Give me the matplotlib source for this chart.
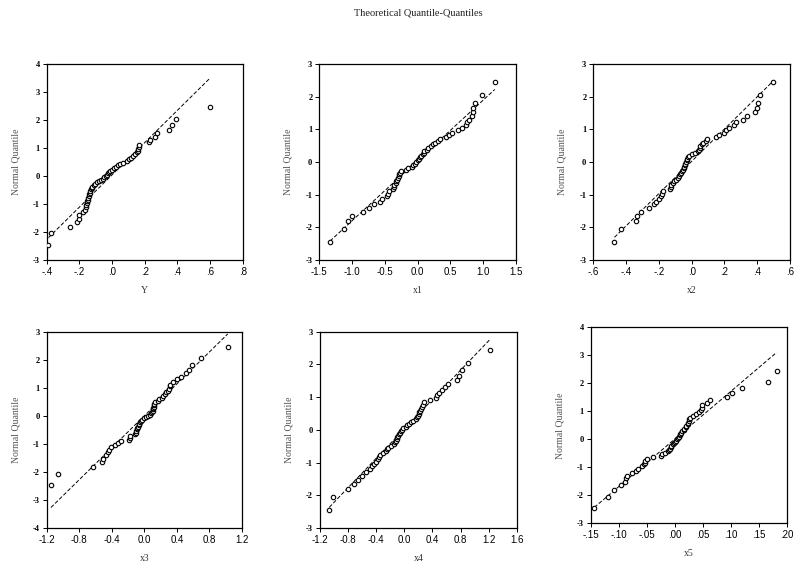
import numpy as np
import matplotlib
matplotlib.use('Agg')
import matplotlib.pyplot as plt

# theoretical normal quantiles (shared by all panels)
yq = [-2.45, -2.05, -1.82, -1.65, -1.52, -1.40, -1.30, -1.21, -1.12, -1.05,
      -0.97, -0.90, -0.84, -0.77, -0.71, -0.65, -0.59, -0.54, -0.48, -0.43,
      -0.38, -0.33, -0.28, -0.23, -0.18, -0.14, -0.09, -0.05, 0.00, 0.05,
      0.09, 0.14, 0.18, 0.23, 0.28, 0.33, 0.38, 0.43, 0.48, 0.54,
      0.59, 0.65, 0.71, 0.77, 0.84, 0.90, 0.97, 1.05, 1.12, 1.21,
      1.30, 1.40, 1.52, 1.65, 1.82, 2.05, 2.45]

# sorted sample values per variable
q_Y = [-0.389, -0.371, -0.258, -0.217, -0.205, -0.203, -0.176, -0.165, -0.160, -0.158,
       -0.155, -0.152, -0.150, -0.147, -0.143, -0.140, -0.137, -0.132, -0.127, -0.122,
       -0.120, -0.112, -0.105, -0.092, -0.080, -0.068, -0.058, -0.050, -0.040, -0.032,
       -0.027, -0.020, -0.012, 0.000, 0.010, 0.022, 0.035, 0.048, 0.070, 0.092,
       0.105, 0.117, 0.130, 0.140, 0.150, 0.160, 0.162, 0.164, 0.166, 0.225,
       0.230, 0.260, 0.275, 0.348, 0.369, 0.389, 0.598]
q_x1 = [-1.337, -1.118, -1.057, -0.996, -0.829, -0.747, -0.661, -0.574, -0.549, -0.473,
        -0.452, -0.440, -0.381, -0.362, -0.352, -0.335, -0.328, -0.310, -0.303, -0.285,
        -0.278, -0.262, -0.250, -0.170, -0.145, -0.090, -0.070, -0.035, -0.020, 0.015,
        0.030, 0.045, 0.060, 0.080, 0.092, 0.105, 0.140, 0.160, 0.200, 0.240,
        0.260, 0.320, 0.350, 0.430, 0.480, 0.520, 0.620, 0.680, 0.740, 0.762,
        0.788, 0.840, 0.842, 0.854, 0.874, 0.990, 1.180]
q_x2 = [-0.471, -0.431, -0.339, -0.336, -0.312, -0.261, -0.231, -0.220, -0.200, -0.190,
        -0.180, -0.176, -0.133, -0.128, -0.124, -0.112, -0.105, -0.094, -0.082, -0.076,
        -0.069, -0.062, -0.057, -0.051, -0.047, -0.044, -0.041, -0.038, -0.035, -0.030,
        -0.027, -0.020, -0.014, 0.000, 0.022, 0.036, 0.042, 0.048, 0.052, 0.062,
        0.068, 0.086, 0.094, 0.147, 0.167, 0.198, 0.208, 0.227, 0.259, 0.273,
        0.314, 0.339, 0.386, 0.396, 0.402, 0.416, 0.494]
q_x3 = [-1.148, -1.057, -0.635, -0.525, -0.512, -0.471, -0.443, -0.430, -0.415, -0.361,
        -0.320, -0.287, -0.184, -0.180, -0.176, -0.115, -0.104, -0.100, -0.092, -0.086,
        -0.080, -0.070, -0.062, -0.055, -0.045, -0.025, -0.010, 0.015, 0.045, 0.070,
        0.080, 0.095, 0.102, 0.108, 0.112, 0.115, 0.118, 0.122, 0.130, 0.165,
        0.180, 0.215, 0.234, 0.255, 0.270, 0.290, 0.300, 0.312, 0.320, 0.348,
        0.398, 0.451, 0.508, 0.549, 0.582, 0.697, 1.025]
q_x4 = [-1.068, -1.020, -0.797, -0.712, -0.664, -0.607, -0.546, -0.484, -0.456, -0.427,
        -0.403, -0.380, -0.360, -0.346, -0.299, -0.266, -0.240, -0.225, -0.190, -0.140,
        -0.128, -0.119, -0.108, -0.098, -0.090, -0.075, -0.062, -0.050, -0.030, -0.015,
        0.020, 0.035, 0.060, 0.100, 0.120, 0.160, 0.176, 0.190, 0.205, 0.215,
        0.230, 0.240, 0.255, 0.265, 0.275, 0.365, 0.451, 0.470, 0.494, 0.532,
        0.579, 0.617, 0.745, 0.783, 0.816, 0.911, 1.220]
q_x5 = [-0.1435, -0.1196, -0.1080, -0.0964, -0.0887, -0.0862, -0.0852, -0.0768, -0.0690, -0.0650,
        -0.0590, -0.0540, -0.0535, -0.0525, -0.0490, -0.0390, -0.0250, -0.0235, -0.0173, -0.0125,
        -0.0100, -0.0090, -0.0075, -0.0065, -0.0036, -0.0015, 0.0000, 0.0025, 0.0040, 0.0060,
        0.0070, 0.0090, 0.0100, 0.0120, 0.0130, 0.0160, 0.0170, 0.0195, 0.0210, 0.0230,
        0.0240, 0.0255, 0.0262, 0.0270, 0.0333, 0.0380, 0.0440, 0.0464, 0.0480, 0.0490,
        0.0583, 0.0630, 0.0940, 0.1018, 0.1196, 0.1660, 0.1820]

names = ['Y', 'x1', 'x2', 'x3', 'x4', 'x5']
samples = [q_Y, q_x1, q_x2, q_x3, q_x4, q_x5]
# reference line: intercept, slope
fit_a = [0.04, 0.044, 0.021, 0.005, 0.027, 0.008]
fit_b = [5.76, 1.844, 4.94, 2.844, 2.243, 17.0]

xtick_vals = [[-0.4, -0.2, 0.0, 0.2, 0.4, 0.6, 0.8],
              [-1.5, -1.0, -0.5, 0.0, 0.5, 1.0, 1.5],
              [-0.6, -0.4, -0.2, 0.0, 0.2, 0.4, 0.6],
              [-1.2, -0.8, -0.4, 0.0, 0.4, 0.8, 1.2],
              [-1.2, -0.8, -0.4, 0.0, 0.4, 0.8, 1.2, 1.6],
              [-0.15, -0.10, -0.05, 0.0, 0.05, 0.10, 0.15, 0.20]]
xtick_labels = [['-.4', '-.2', '.0', '.2', '.4', '.6', '.8'],
                ['-1.5', '-1.0', '-0.5', '0.0', '0.5', '1.0', '1.5'],
                ['-.6', '-.4', '-.2', '.0', '.2', '.4', '.6'],
                ['-1.2', '-0.8', '-0.4', '0.0', '0.4', '0.8', '1.2'],
                ['-1.2', '-0.8', '-0.4', '0.0', '0.4', '0.8', '1.2', '1.6'],
                ['-.15', '-.10', '-.05', '.00', '.05', '.10', '.15', '.20']]
ylims = [(-3, 4), (-3, 3), (-3, 3), (-4, 3), (-3, 3), (-3, 4)]

# axes boxes in pixels: left, top, right, bottom
W, H = 794, 565
boxes = [(46.7, 64, 242.7, 260), (319.3, 64, 515.7, 260), (593.3, 64, 790, 260),
         (46.7, 331.7, 242, 528.3), (320, 331.7, 516.7, 528), (590.7, 327.3, 786.7, 523.3)]

fig = plt.figure(figsize=(W / 100, H / 100), dpi=100)
fig.text(418 / W, 1 - 13 / H, 'Theoretical Quantile-Quantiles', ha='center', va='center',
         family='Liberation Serif', fontsize=7.5, color='#222222')

for i in range(6):
    l, t, r, b = boxes[i]
    ax = fig.add_axes([l / W, 1 - b / H, (r - l) / W, (b - t) / H])
    xs = np.array(samples[i])
    ax.plot(xs, yq, 'o', ms=3.2, mfc='white', mec='black', mew=0.8, zorder=3)
    xl = np.array([xs.min(), xs.max()])
    ax.plot(xl, fit_a[i] + fit_b[i] * xl, color='black', lw=0.7, ls=(0, (4, 2)), zorder=2)
    ax.set_xlim(xtick_vals[i][0], xtick_vals[i][-1])
    ax.set_ylim(*ylims[i])
    ax.set_xticks(xtick_vals[i])
    ax.set_xticklabels(xtick_labels[i], family='Liberation Sans', fontsize=7)
    yt = list(range(ylims[i][0], ylims[i][1] + 1))
    ax.set_yticks(yt)
    ax.set_yticklabels([str(v) for v in yt], family='Liberation Serif',
                       fontweight='bold', fontsize=6)
    ax.tick_params(direction='out', length=3, width=0.7, pad=2)
    for s in ax.spines.values():
        s.set_linewidth(0.9)
    ax.set_ylabel('Normal Quantile', family='Liberation Serif', fontsize=7,
                  color='#555555', labelpad=9)
    ax.set_xlabel(names[i], family='Liberation Serif', fontsize=7,
                  color='#333333', labelpad=6.5)

plt.savefig('out.png', dpi=100)
